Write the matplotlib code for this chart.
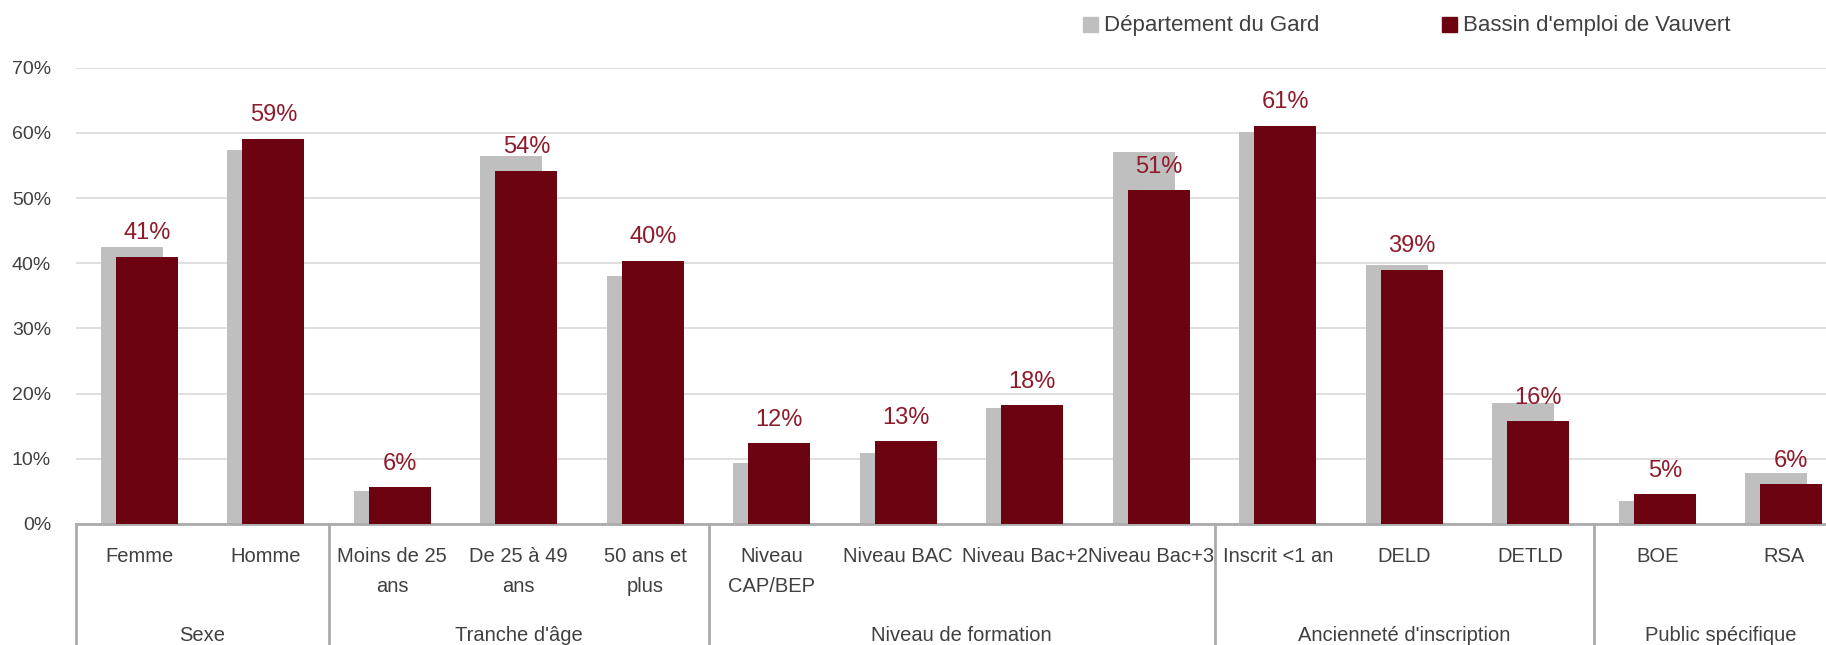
import matplotlib.pyplot as plt
from matplotlib.patches import Rectangle
import numpy as np

plt.rcParams['font.family'] = ['Liberation Sans', 'DejaVu Sans']

categories = ['Femme', 'Homme', 'Moins de 25\nans', 'De 25 à 49\nans', '50 ans et\nplus',
              'Niveau\nCAP/BEP', 'Niveau BAC', 'Niveau Bac+2', 'Niveau Bac+3',
              'Inscrit <1 an', 'DELD', 'DETLD', 'BOE', 'RSA']
groups = ['Sexe', "Tranche d'âge", 'Niveau de formation', "Ancienneté d'inscription", 'Public spécifique']
group_sizes = [2, 3, 4, 3, 2]
gard = [42.5, 57.3, 5.1, 56.5, 38.1, 9.3, 10.9, 17.8, 57.1, 60.1, 39.8, 18.6, 3.6, 7.8]
vauvert = [41.0, 59.1, 5.6, 54.2, 40.4, 12.4, 12.7, 18.2, 51.2, 61.1, 39.0, 15.8, 4.6, 6.1]
series_names = ['Département du Gard', "Bassin d'emploi de Vauvert"]

c_gray = '#BFBFBF'
c_red = '#6C0310'
c_lab = '#8E1B2C'
c_txt = '#404040'
c_axis = '#ABABAB'

fig = plt.figure(figsize=(18.26, 6.45), dpi=100)
ax = fig.add_axes([76 / 1826, 121 / 645, 1771 / 1826, 456.3 / 645])

x = np.arange(len(categories))
w = 0.49
ax.bar(x - 0.06, gard, width=w, color=c_gray, zorder=2)
bars = ax.bar(x + 0.06, vauvert, width=w, color=c_red, zorder=3)
for b, v in zip(bars, vauvert):
    ax.annotate(f'{round(v)}%', xy=(b.get_x() + b.get_width() / 2, v), xytext=(0, 12.5),
                textcoords='offset points', ha='center', va='baseline',
                fontsize=17, color=c_lab, zorder=5)

ax.set_xlim(-0.5, len(categories) - 0.5)
ax.set_ylim(0, 70)
ax.set_yticks(np.arange(0, 71, 10))
ax.set_yticklabels([f'{t}%' for t in range(0, 71, 10)], fontsize=14, color=c_txt)
ax.tick_params(axis='y', length=0, pad=18)
ax.set_xticks([])
ax.grid(axis='y', color='#D9D9D9', lw=1.2, zorder=0)
for s in ['left', 'right', 'top']:
    ax.spines[s].set_visible(False)
ax.spines['bottom'].set_color(c_axis)
ax.spines['bottom'].set_linewidth(2)

tr = ax.get_xaxis_transform()
for i, lab in enumerate(categories):
    ax.text(i, -0.05, lab, transform=tr, ha='center', va='top', fontsize=14.5,
            color=c_txt, linespacing=1.75)

edges = np.concatenate([[0], np.cumsum(group_sizes)]) - 0.5
for e in edges:
    ax.plot([e, e], [0, -0.3], transform=tr, color=c_axis, lw=2, clip_on=False)
for g, a, b in zip(groups, edges[:-1], edges[1:]):
    ax.text((a + b) / 2, -0.2564, g, transform=tr, ha='center', va='baseline',
            fontsize=14.5, color=c_txt)

# legend
for xs, xt, col, name in [(1083, 1104, c_gray, series_names[0]), (1442, 1463, c_red, series_names[1])]:
    fig.patches.append(Rectangle((xs / 1826, 1 - 32 / 645), 15 / 1826, 15 / 645,
                                 transform=fig.transFigure, color=col))
    fig.text(xt / 1826, 1 - 25 / 645, name, ha='left', va='center', fontsize=16, color=c_txt)

fig.savefig('out.png', dpi=100)
